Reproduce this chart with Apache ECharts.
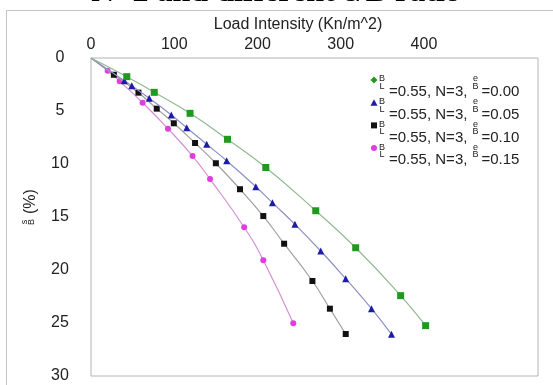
<!DOCTYPE html>
<html>
<head>
<meta charset="utf-8">
<script src="https://cdn.jsdelivr.net/npm/echarts@6/dist/echarts.min.js"></script>
<style>
  html, body { margin: 0; padding: 0; background: #fff; }
  #chart { width: 553px; height: 385px; }
</style>
</head>
<body>
<div id="chart"></div>
<script>
// load intensity (Kn/m^2) and settlement s/B (%)
const loadE000 = [0, 43, 76, 119, 164, 210, 270, 318, 372, 402];
const settleE000 = [0, 1.76, 3.24, 5.22, 7.67, 10.33, 14.41, 17.9, 22.42, 25.25];

const loadE005 = [0, 40, 49, 70, 96.5, 115, 139, 163, 198, 218, 245, 276, 306, 337, 361];
const settleE005 = [0, 2.14, 2.61, 3.8, 5.38, 6.58, 8.14, 9.69, 12.14, 13.65, 15.69, 18.21, 20.82, 23.65, 26.07];

const loadE010 = [0, 27.5, 57, 79, 99.5, 125, 150, 179, 207, 232, 266, 287, 306];
const settleE010 = [0, 1.58, 3.27, 4.78, 6.16, 8.02, 9.93, 12.38, 14.91, 17.52, 21.04, 23.65, 26.04];

const loadE015 = [0, 20, 34.5, 62, 92.5, 122, 143, 184, 207, 243];
const settleE015 = [0, 1.2, 2.2, 4.22, 6.67, 9.25, 11.42, 15.97, 19.08, 25.03];

const eRatios = ['0.00', '0.05', '0.10', '0.15'];
const xTickLabels = [0, 100, 200, 300, 400];

const chart = echarts.init(document.getElementById('chart'));

const styles = [
  { marker: '#1f9a1f', line: '#93b893', symbol: 'rect', size: 7 },
  { marker: '#1c1ca8', line: '#8d90c4', symbol: 'triangle', size: 7 },
  { marker: '#111111', line: '#a0a0a0', symbol: 'rect', size: 6 },
  { marker: '#e03ce0', line: '#d58ed5', symbol: 'circle', size: 6 }
];

function pairs(xs, ys) {
  return xs.map((x, i) => i === 0 ? { value: [x, ys[i]], symbol: 'none' } : [x, ys[i]]);
}

const allData = [
  pairs(loadE000, settleE000),
  pairs(loadE005, settleE005),
  pairs(loadE010, settleE010),
  pairs(loadE015, settleE015)
];

const series = allData.map((d, i) => ({
  name: 'B/L=0.55, N=3, e/B=' + eRatios[i],
  type: 'line',
  smooth: true,
  data: d,
  symbol: styles[i].symbol,
  symbolSize: styles[i].size,
  itemStyle: { color: styles[i].marker },
  lineStyle: { color: styles[i].line, width: 1.2 },
  z: 10 - i
}));

// legend drawn by hand, it has stacked fractions
const ctx = document.createElement('canvas').getContext('2d');
function textWidth(t, font) {
  ctx.font = font;
  return ctx.measureText(t).width;
}
const mainFont = '15px "Liberation Sans"';
const fracFont = '9px "Liberation Sans"';
const legendEls = [];
eRatios.forEach((r, i) => {
  const cy = 92 + 22.7 * i;
  const my = cy - 12;
  const c = styles[i].marker;
  if (i === 0) {
    legendEls.push({ type: 'polygon', shape: { points: [[374, my - 3.5], [377.5, my], [374, my + 3.5], [370.5, my]] }, style: { fill: c } });
  } else if (i === 1) {
    legendEls.push({ type: 'polygon', shape: { points: [[374, my - 3.5], [377.5, my + 3], [370.5, my + 3]] }, style: { fill: c } });
  } else if (i === 2) {
    legendEls.push({ type: 'rect', shape: { x: 371, y: my - 3, width: 6, height: 6 }, style: { fill: c } });
  } else {
    legendEls.push({ type: 'circle', shape: { cx: 374, cy: my, r: 3 }, style: { fill: c } });
  }
  const txt = (t, x, y, font, align) => ({
    type: 'text', x: x, y: y,
    style: { text: t, font: font, fill: '#222', align: align || 'left', verticalAlign: 'middle' }
  });
  legendEls.push(txt('B', 382, cy - 13, fracFont, 'center'));
  legendEls.push(txt('L', 382, cy - 5.5, fracFont, 'center'));
  const main = '=0.55, N=3,';
  legendEls.push(txt(main, 389, cy, mainFont));
  const fx = 389 + textWidth(main, mainFont) + 8;
  legendEls.push(txt('e', fx, cy - 13, fracFont, 'center'));
  legendEls.push(txt('B', fx, cy - 5.5, fracFont, 'center'));
  legendEls.push(txt('=' + r, fx + 6, cy, mainFont));
});

const option = {
  animation: false,
  backgroundColor: '#fff',
  grid: {
    left: 91, top: 58, width: 447, height: 318,
    show: true, borderColor: '#b4b4b4', borderWidth: 1
  },
  xAxis: {
    type: 'value',
    position: 'top',
    min: 0, max: 537, interval: 100,
    name: 'Load Intensity (Kn/m^2)',
    nameLocation: 'middle',
    nameGap: 25,
    nameTextStyle: { fontFamily: 'Liberation Sans', fontSize: 16, color: '#222', padding: [0, 33, 0, 0] },
    axisLine: { show: false },
    axisTick: { show: false },
    splitLine: { show: false },
    axisLabel: {
      fontFamily: 'Liberation Sans', fontSize: 16, color: '#222', margin: 5,
      formatter: v => xTickLabels.indexOf(v) >= 0 ? String(v) : ''
    }
  },
  yAxis: {
    type: 'value',
    inverse: true,
    min: 0, max: 30, interval: 5,
    axisLine: { show: false },
    axisTick: { show: false },
    splitLine: { show: false },
    axisLabel: { fontFamily: 'Liberation Sans', fontSize: 16, color: '#222', margin: 31, align: 'center' }
  },
  graphic: [
    {
      type: 'rect', silent: true,
      shape: { x: 6.5, y: 10.5, width: 600, height: 400 },
      style: { fill: 'none', stroke: '#c4c4c4', lineWidth: 1 }
    },
    {
      type: 'text', x: 276, y: 9,
      style: { text: 'N=2 and different e/B ratio', font: 'bold 32px "Liberation Serif"', fill: '#000', align: 'center', verticalAlign: 'bottom' }
    },
    {
      type: 'group', x: 29, y: 222, rotation: Math.PI / 2,
      children: [
        { type: 'text', x: 0, y: -4, style: { text: 's', font: fracFont, fill: '#222', align: 'center', verticalAlign: 'middle' } },
        { type: 'text', x: 0, y: 3, style: { text: 'B', font: fracFont, fill: '#222', align: 'center', verticalAlign: 'middle' } },
        { type: 'text', x: 8, y: 2, style: { text: '(%)', font: '16px "Liberation Sans"', fill: '#222', align: 'left', verticalAlign: 'middle' } }
      ]
    },
    { type: 'group', children: legendEls }
  ],
  series
};

chart.setOption(option);
</script>
</body>
</html>
